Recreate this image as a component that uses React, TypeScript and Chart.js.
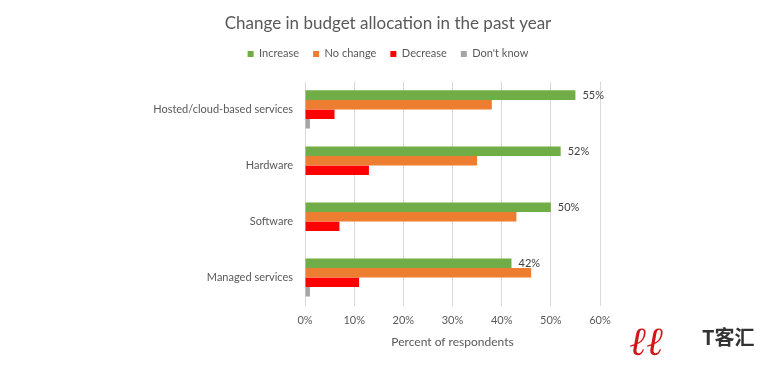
import React, { useEffect, useRef } from "react";
import { Chart, registerables } from "chart.js";
Chart.register(...registerables);

const categories = ["Hosted/cloud-based services", "Hardware", "Software", "Managed services"];
const seriesNames = ["Increase", "No change", "Decrease", "Don't know"];
const increase = [55, 52, 50, 42];
const noChange = [38, 35, 43, 46];
const decrease = [6, 13, 7, 11];
const dontKnow = [1, 0, 0, 1];
const xMin = 0;
const xMax = 60;
const xStep = 10;
const titleText = "Change in budget allocation in the past year";
const xTitle = "Percent of respondents";
const colors = ["#70AD47", "#ED7D31", "#FF0000", "#A5A5A5"];
const FONT = "Lato, 'Open Sans', sans-serif";

const labelPlugin = {
  id: "incLabels",
  afterDatasetsDraw(chart: any) {
    const ctx = chart.ctx;
    const meta = chart.getDatasetMeta(0);
    ctx.save();
    ctx.font = `11px ${FONT}`;
    ctx.fillStyle = "#404040";
    ctx.textAlign = "left";
    ctx.textBaseline = "middle";
    meta.data.forEach((bar: any, i: number) => {
      ctx.fillText(increase[i] + "%", bar.x + 7, bar.y);
    });
    ctx.restore();
  },
};

const logoPlugin = {
  id: "logo",
  afterDraw(chart: any) {
    const ctx = chart.ctx;
    ctx.save();
    ctx.fillStyle = "#d01818";
    ctx.font = `italic bold 40px 'DejaVu Serif', serif`;
    ctx.textBaseline = "alphabetic";
    ctx.fillText("ℓℓ", 630, 355);
    ctx.fillStyle = "#333333";
    ctx.font = `bold 20px 'Noto Sans CJK SC', sans-serif`;
    ctx.fillText("T客汇", 702, 345);
    ctx.restore();
  },
};

export default function App() {
  const ref = useRef<HTMLCanvasElement | null>(null);
  useEffect(() => {
    document.body.style.margin = "0";
    const chart = new Chart(ref.current as HTMLCanvasElement, {
      type: "bar",
      data: {
        labels: categories,
        datasets: [increase, noChange, decrease, dontKnow].map((d, i) => ({
          label: seriesNames[i],
          data: d,
          backgroundColor: colors[i],
          borderWidth: 0,
          categoryPercentage: 0.68,
          barPercentage: 1,
          xAxisID: "x",
          yAxisID: "y",
        })),
      },
      options: {
        indexAxis: "y",
        animation: false,
        responsive: false,
        maintainAspectRatio: false,
        layout: { padding: { left: 6, right: 0, top: 0, bottom: 16 } },
        plugins: {
          title: {
            display: true,
            text: titleText,
            color: "#595959",
            font: { family: FONT, size: 17, weight: "normal" },
            padding: { top: 13, bottom: 1 },
          },
          legend: {
            display: true,
            labels: {
              color: "#595959",
              font: { family: FONT, size: 11 },
              boxWidth: 6,
              boxHeight: 6,
              padding: 14,
            },
          },
          tooltip: { enabled: false },
        },
        scales: {
          x: {
            min: xMin,
            max: xMax,
            position: "bottom",
            ticks: {
              stepSize: xStep,
              callback: (v: any) => v + "%",
              color: "#595959",
              font: { family: FONT, size: 11 },
              padding: 8,
            },
            grid: { color: "#d9d9d9", drawTicks: false },
            border: { display: false },
            title: {
              display: true,
              text: xTitle,
              color: "#595959",
              font: { family: FONT, size: 12 },
              padding: { top: 6, bottom: 0 },
            },
            afterFit: (s: any) => {
              s.height = 43.5;
            },
          },
          xTop: {
            type: "linear",
            position: "top",
            display: true,
            ticks: { display: false },
            grid: { display: false, drawTicks: false },
            border: { display: false },
            afterFit: (s: any) => {
              s.height = 12;
            },
          },
          y: {
            position: "left",
            ticks: {
              color: "#595959",
              font: { family: FONT, size: 11 },
              padding: 12,
            },
            grid: { display: false, drawTicks: false },
            border: { display: false },
            afterFit: (s: any) => {
              s.width = 299;
            },
          },
          yRight: {
            type: "category",
            position: "right",
            display: true,
            ticks: { display: false },
            grid: { display: false, drawTicks: false },
            border: { display: false },
            afterFit: (s: any) => {
              s.width = 170;
            },
          },
        },
      },
      plugins: [labelPlugin, logoPlugin],
    } as any);
    return () => chart.destroy();
  }, []);
  return (
    <div style={{ width: 770, height: 365, background: "#fff" }}>
      <canvas ref={ref} width={770} height={365} style={{ display: "block" }} />
    </div>
  );
}
